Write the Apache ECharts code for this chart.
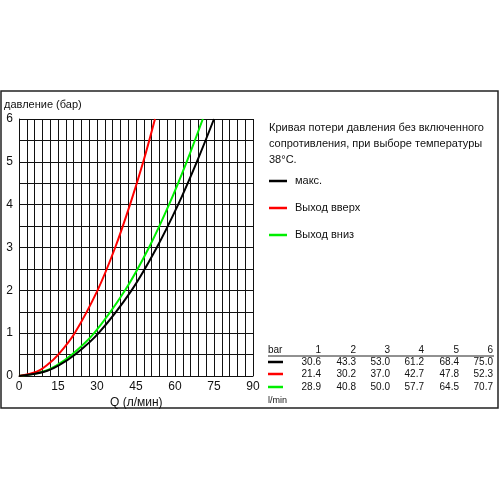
<!DOCTYPE html>
<html>
<head>
<meta charset="utf-8">
<script src="https://cdn.jsdelivr.net/npm/echarts@6/dist/echarts.min.js"></script>
<style>
html,body{margin:0;padding:0;background:#fff;}
#c{width:500px;height:500px;}
</style>
</head>
<body>
<div id="c"></div>
<script>
// pressure (bar) levels of the table
const pressureBar = [1, 2, 3, 4, 5, 6];
// flow (l/min) at those pressures, per outlet
const flowMax  = [30.6, 43.3, 53.0, 61.2, 68.4, 75.0];
const flowUp   = [21.4, 30.2, 37.0, 42.7, 47.8, 52.3];
const flowDown = [28.9, 40.8, 50.0, 57.7, 64.5, 70.7];
// low-pressure part of the curves
const lowPressure = [0, 0.1, 0.25, 0.5];
const lowFlowMax  = [0, 9.7, 15.3, 21.6];
const lowFlowUp   = [0, 6.8, 10.7, 15.1];
const lowFlowDown = [0, 9.1, 14.5, 20.4];

const seriesNames = ['макс.', 'Выход вверх', 'Выход вниз'];
const seriesColors = ['#000000', '#ff0000', '#00ee00'];
const xTickLabels = ['0', '15', '30', '45', '60', '75', '90'];
const yTickLabels = ['0', '1', '2', '3', '4', '5', '6'];
const tableHeader = 'bar';
const tableFooter = 'l/min';
const noteLines = ['Кривая потери давления без включенного', 'сопротивления, при выборе температуры', '38°C.'];

function pts(lowQ, q) {
  const out = [];
  lowPressure.forEach((p, i) => out.push([lowQ[i], p]));
  pressureBar.forEach((p, i) => out.push([q[i], p]));
  return out;
}
const flows = [flowMax, flowUp, flowDown];
const lows = [lowFlowMax, lowFlowUp, lowFlowDown];

const font = '"Liberation Sans", Arial, sans-serif';
const chart = echarts.init(document.getElementById('c'));

const graphics = [];
graphics.push({type:'rect', shape:{x:1, y:91, width:497, height:317}, style:{fill:'none', stroke:'#222', lineWidth:1.5}, z:0});
graphics.push({type:'text', left:4, top:99, style:{text:'давление (бар)', font:'11px ' + font, fill:'#111'}});
graphics.push({type:'text', left:110, top:397, style:{text:'Q (л/мин)', font:'12px ' + font, fill:'#111'}});
noteLines.forEach((t, i) => {
  graphics.push({type:'text', left:269, top:122 + i * 16, style:{text:t, font:'11px ' + font, fill:'#111'}});
});
const legY = [181, 208, 235];
seriesNames.forEach((n, i) => {
  graphics.push({type:'line', shape:{x1:269, y1:legY[i], x2:287, y2:legY[i]}, style:{stroke:seriesColors[i], lineWidth:2.5}});
  graphics.push({type:'text', left:295, top:legY[i] - 6, style:{text:n, font:'11px ' + font, fill:'#111'}});
});
// table
const colRight = [321, 356, 390, 424, 459, 493];
const rowY = [362, 374, 387];
graphics.push({type:'text', left:268, top:345, style:{text:tableHeader, font:'10px ' + font, fill:'#111'}});
graphics.push({type:'text', left:268, top:396, style:{text:tableFooter, font:'9px ' + font, fill:'#111'}});
graphics.push({type:'line', shape:{x1:268, y1:356, x2:494, y2:356}, style:{stroke:'#222', lineWidth:1}});
pressureBar.forEach((p, j) => {
  graphics.push({type:'text', x:colRight[j], y:350, style:{text:String(p), font:'10px ' + font, fill:'#111', textAlign:'right', textVerticalAlign:'middle'}});
});
flows.forEach((arr, i) => {
  graphics.push({type:'line', shape:{x1:268, y1:rowY[i], x2:283, y2:rowY[i]}, style:{stroke:seriesColors[i], lineWidth:2.5}});
  arr.forEach((v, j) => {
    graphics.push({type:'text', x:colRight[j], y:rowY[i], style:{text:v.toFixed(1), font:'10px ' + font, fill:'#111', textAlign:'right', textVerticalAlign:'middle'}});
  });
});

chart.setOption({
  backgroundColor:'#ffffff',
  animation:false,
  grid:{left:19, top:119, width:234, height:257, containLabel:false},
  xAxis:{
    type:'value', min:0, max:90, interval:3,
    axisLine:{show:true, lineStyle:{color:'#111', width:1}},
    axisTick:{show:false},
    splitLine:{show:true, lineStyle:{color:'#111', width:1}},
    axisLabel:{
      margin:5, color:'#111', fontSize:12, fontFamily:font,
      formatter:(v) => { const s = String(v); return xTickLabels.indexOf(s) >= 0 ? s : ''; }
    }
  },
  yAxis:{
    type:'value', min:0, max:6, interval:0.5,
    axisLine:{show:true, lineStyle:{color:'#111', width:1}},
    axisTick:{show:false},
    splitLine:{show:true, lineStyle:{color:'#111', width:1}},
    axisLabel:{
      margin:6, color:'#111', fontSize:12, fontFamily:font,
      formatter:(v) => { const s = String(v); return yTickLabels.indexOf(s) >= 0 ? s : ''; }
    }
  },
  series: seriesNames.map((n, i) => ({
    name:n, type:'line', smooth:0.35, symbol:'none',
    data:pts(lows[i], flows[i]),
    lineStyle:{color:seriesColors[i], width:2},
    z:5 - i
  })),
  graphic: graphics
});
</script>
</body>
</html>
